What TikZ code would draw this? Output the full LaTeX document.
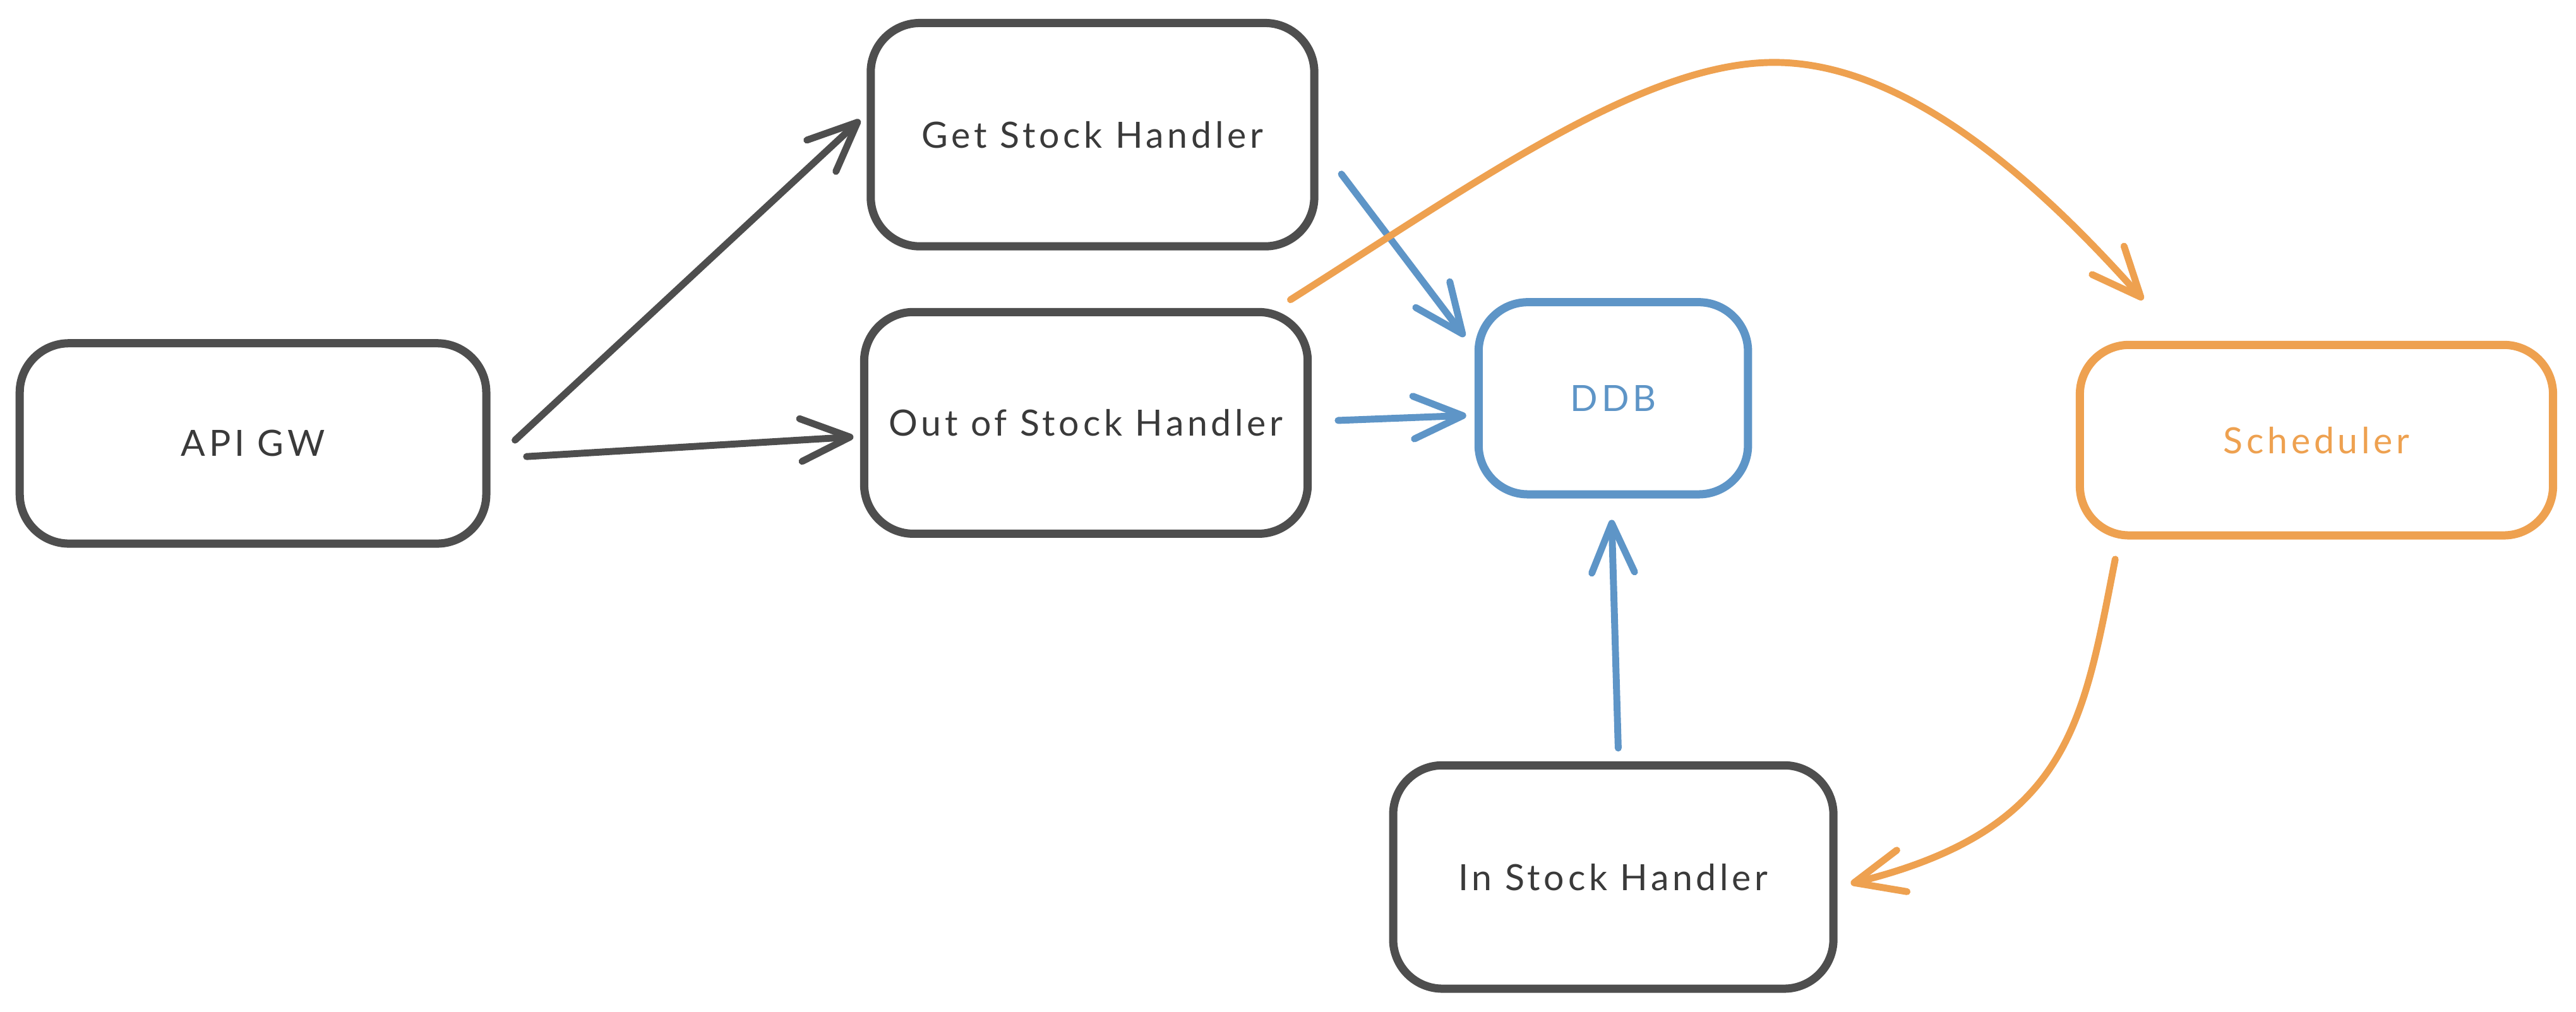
\documentclass[tikz,border=0pt]{standalone}
\usepackage{fontspec}
\setmainfont{Lato}[LetterSpace=10]
\usetikzlibrary{arrows.meta,calc}
\definecolor{ink}{HTML}{4E4E4E}
\definecolor{txt}{HTML}{3A3A3A}
\definecolor{ddbblue}{HTML}{5E95C7}
\definecolor{orng}{HTML}{EEA150}
\begin{document}
\begin{tikzpicture}[x=1pt,y=-1pt,
  box/.style={draw=ink, line width=5pt, rounded corners=30pt, fill=white, text=txt,
    font=\fontsize{22}{26}\selectfont, inner sep=0pt},
  conn/.style={line width=4.2pt, line cap=round, line join=round,
    -{Straight Barb[length=30pt,width=26pt,round]}},
]
\useasboundingbox[fill=white] (0,0) rectangle (1568,616);
\node[box, minimum width=284pt, minimum height=122pt] (api) at (154,270) {API GW};
\node[box, minimum width=270pt, minimum height=136pt] (get) at (665,82) {Get Stock Handler};
\node[box, minimum width=270pt, minimum height=135pt] (out) at (661,257.5) {Out of Stock Handler};
\node[box, draw=ddbblue, text=ddbblue, minimum width=164pt, minimum height=117pt] (ddb) at (982,242.5) {DDB};
\node[box, draw=orng, text=orng, minimum width=288pt, minimum height=116pt] (sched) at (1410,268) {Scheduler};
\node[box, minimum width=268pt, minimum height=136pt] (instock) at (982,534) {In Stock Handler};

\draw[conn, ink] ($(api.east)+(15,-2)$) -- ($(get.west)+(-4,-9)$);
\draw[conn, ink] ($(api.east)+(22,8)$) -- ($(out.west)+(-4,8.5)$);
\draw[conn, ddbblue] ($(get.east)+(14,24)$) -- ($(ddb.west)+(-6,-37.5)$);
\draw[conn, ddbblue] ($(out.east)+(16,-1.5)$) -- ($(ddb.west)+(-5,10.5)$);
\draw[conn, ddbblue] ($(instock.north)+(3,-8)$) -- ($(ddb.south)+(-1,13)$);
\coordinate (peak) at (1080,38);
\draw[conn, orng] ($(out.north east)+(-13,-5)$) .. controls (900,110) and (1000,38) .. (peak)
  .. controls (1160,38) and (1240,110) .. ($(sched.north west)+(41,-25)$);
\draw[conn, orng] ($(sched.south west)+(24,12)$) .. controls (1268,440) and (1260,505) .. ($(instock.east)+(8,4)$);
\end{tikzpicture}
\end{document}
